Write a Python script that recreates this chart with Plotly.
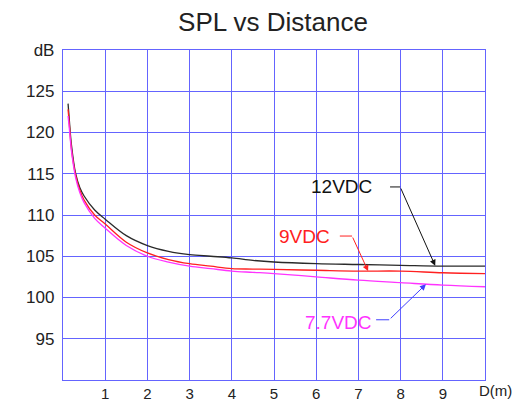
import plotly.graph_objects as go

# ---- data ----
distance_m = [0.12, 0.15, 0.2, 0.3, 0.4, 0.5, 0.75, 1.0, 1.5, 2.0, 2.5, 3.0, 3.5, 4.0, 4.5, 5.0, 6.0, 7.0, 8.0, 9.0, 10.0]
spl_12vdc = [123.5, 121.5, 118.5, 115.0, 113.3, 112.3, 110.6, 109.5, 107.5, 106.3, 105.6, 105.2, 105.0, 104.8, 104.5, 104.3, 104.1, 104.0, 103.9, 103.8, 103.8]
spl_9vdc = [122.8, 121.0, 118.0, 114.8, 113.0, 111.8, 110.0, 108.9, 106.7, 105.4, 104.6, 104.1, 103.8, 103.5, 103.45, 103.4, 103.3, 103.2, 103.2, 103.0, 102.9]
spl_77vdc = [122.0, 120.5, 117.8, 114.5, 112.7, 111.5, 109.6, 108.4, 106.3, 105.0, 104.3, 103.8, 103.5, 103.2, 103.05, 102.9, 102.5, 102.1, 101.8, 101.5, 101.3]

x_tick_vals = [1, 2, 3, 4, 5, 6, 7, 8, 9]
x_tick_text = ["1", "2", "3", "4", "5", "6", "7", "8", "9"]
y_tick_vals = [95, 100, 105, 110, 115, 120, 125, 130]
y_tick_text = ["95", "100", "105", "110", "115", "120", "125", "dB"]

series = [
    ("12VDC", spl_12vdc, "#2a2a2a"),
    ("9VDC", spl_9vdc, "#ff2020"),
    ("7.7VDC", spl_77vdc, "#ff33ff"),
]

FONT = "Liberation Sans, Arial, sans-serif"
GRID = "#6464ff"

fig = go.Figure()
for name, vals, col in series:
    fig.add_trace(go.Scatter(x=distance_m, y=vals, mode="lines", name=name,
                             line=dict(color=col, width=1.3), line_shape="spline"))

# callout labels: (text, text x, text y, elbow y, elbow start x, elbow end x, arrow tip x, arrow tip y, text colour, arrow colour)
callouts = [
    ("12VDC", 6.59, 113.4, 113.4, 7.75, 7.99, 8.82, 103.85, "#111111", "#111111"),
    ("9VDC", 5.73, 107.45, 107.45, 6.56, 6.85, 7.23, 103.2, "#ff2020", "#ff2020"),
    ("7.7VDC", 6.52, 97.0, 97.3, 7.42, 7.73, 8.60, 101.6, "#ff33ff", "#4040ff"),
]
for text, tx, ty, ey, ex0, ex1, px, py, tcol, acol in callouts:
    fig.add_annotation(x=tx, y=ty, text=text, showarrow=False,
                       font=dict(family=FONT, size=19, color=tcol))
    fig.add_shape(type="line", x0=ex0, x1=ex1, y0=ey, y1=ey,
                  line=dict(color=acol, width=1))
    fig.add_annotation(x=px, y=py, ax=ex1, ay=ey,
                       axref="x", ayref="y", xref="x", yref="y", text="",
                       showarrow=True, arrowhead=2, arrowsize=1.2, arrowwidth=1,
                       arrowcolor=acol, standoff=0)

fig.add_annotation(x=10, y=0, xref="x", yref="paper", text="D(m)", showarrow=False,
                   xanchor="left", yanchor="top", xshift=-8, yshift=0,
                   font=dict(family=FONT, size=15, color="#222222"))

fig.update_layout(
    width=526, height=402,
    margin=dict(l=63, r=41, t=50, b=22, autoexpand=False),
    paper_bgcolor="white", plot_bgcolor="white",
    showlegend=False,
    title=dict(text="SPL vs Distance", x=0.519, xanchor="center", y=0.945, yanchor="middle",
               font=dict(family=FONT, size=26, color="#222222")),
    font=dict(family=FONT, size=17, color="#222222"),
)
fig.update_xaxes(range=[0, 10], tickvals=x_tick_vals, ticktext=x_tick_text,
                 tickfont=dict(family=FONT, size=15, color="#222222"),
                 showgrid=True, gridcolor=GRID, gridwidth=1.3,
                 showline=True, linecolor=GRID, linewidth=1.3, mirror=True,
                 ticks="", zeroline=False, ticklabelstandoff=0, automargin=False)
fig.update_yaxes(range=[90, 130], tickvals=y_tick_vals, ticktext=y_tick_text,
                 showgrid=True, gridcolor=GRID, gridwidth=1.3,
                 showline=True, linecolor=GRID, linewidth=1.3, mirror=True,
                 ticks="", zeroline=False, ticklabelstandoff=4, automargin=False)

fig.write_html("out.html", config={"displayModeBar": False},
               post_script="document.body.style.margin='0';document.body.style.padding='0';document.body.style.overflow='hidden';")
